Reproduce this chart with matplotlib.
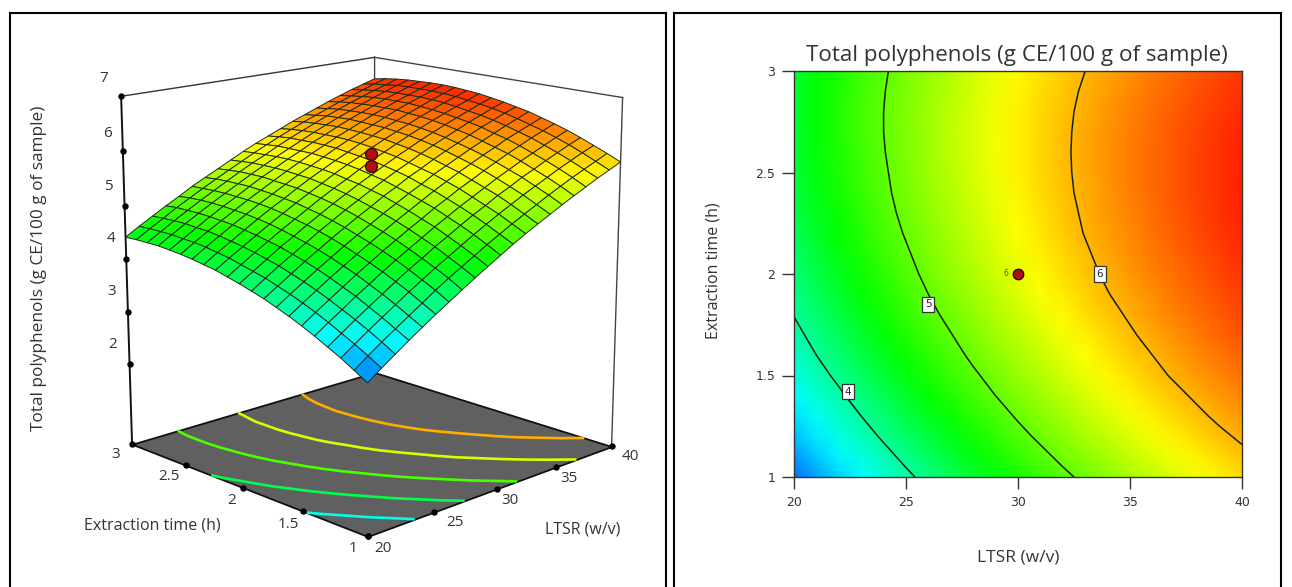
import matplotlib
matplotlib.use('Agg')
import matplotlib.pyplot as plt
import numpy as np
from matplotlib.colors import LinearSegmentedColormap, Normalize
from matplotlib.patches import Rectangle
from mpl_toolkits.mplot3d.art3d import Poly3DCollection

W, H = 1292, 587

# axes values
ltsr = [20, 21, 22, 23, 24, 25, 26, 27, 28, 29, 30, 31, 32, 33, 34, 35, 36, 37, 38, 39, 40]
ext_time = [1.0, 1.1, 1.2, 1.3, 1.4, 1.5, 1.6, 1.7, 1.8, 1.9, 2.0, 2.1, 2.2, 2.3, 2.4, 2.5, 2.6, 2.7, 2.8, 2.9, 3.0]

# total polyphenols, one row per extraction time, one column per LTSR
polyphenols = [
    [3.10, 3.28, 3.45, 3.62, 3.78, 3.94, 4.09, 4.24, 4.39, 4.53, 4.67, 4.81, 4.94, 5.06, 5.18, 5.30, 5.41, 5.52, 5.63, 5.73, 5.83],
    [3.24, 3.42, 3.59, 3.75, 3.91, 4.07, 4.23, 4.38, 4.52, 4.66, 4.80, 4.93, 5.06, 5.18, 5.30, 5.42, 5.53, 5.64, 5.74, 5.84, 5.94],
    [3.38, 3.55, 3.72, 3.88, 4.04, 4.20, 4.35, 4.50, 4.64, 4.78, 4.92, 5.05, 5.18, 5.30, 5.42, 5.53, 5.64, 5.75, 5.85, 5.95, 6.04],
    [3.50, 3.67, 3.84, 4.00, 4.16, 4.32, 4.47, 4.61, 4.76, 4.89, 5.03, 5.16, 5.28, 5.41, 5.52, 5.64, 5.74, 5.85, 5.95, 6.05, 6.14],
    [3.62, 3.79, 3.95, 4.12, 4.27, 4.43, 4.58, 4.72, 4.86, 5.00, 5.13, 5.26, 5.38, 5.50, 5.62, 5.73, 5.84, 5.94, 6.04, 6.14, 6.23],
    [3.73, 3.90, 4.06, 4.22, 4.38, 4.53, 4.68, 4.82, 4.96, 5.09, 5.23, 5.35, 5.48, 5.59, 5.71, 5.82, 5.93, 6.03, 6.13, 6.22, 6.31],
    [3.83, 4.00, 4.16, 4.32, 4.47, 4.62, 4.77, 4.91, 5.05, 5.18, 5.31, 5.44, 5.56, 5.68, 5.79, 5.90, 6.00, 6.11, 6.20, 6.29, 6.38],
    [3.92, 4.09, 4.25, 4.41, 4.56, 4.71, 4.85, 4.99, 5.13, 5.26, 5.39, 5.51, 5.64, 5.75, 5.86, 5.97, 6.07, 6.17, 6.27, 6.36, 6.45],
    [4.01, 4.17, 4.33, 4.49, 4.64, 4.79, 4.93, 5.07, 5.20, 5.34, 5.46, 5.59, 5.70, 5.82, 5.93, 6.03, 6.14, 6.24, 6.33, 6.42, 6.50],
    [4.08, 4.25, 4.41, 4.56, 4.71, 4.86, 5.00, 5.14, 5.27, 5.40, 5.53, 5.65, 5.76, 5.88, 5.99, 6.09, 6.19, 6.29, 6.38, 6.47, 6.55],
    [4.15, 4.31, 4.47, 4.63, 4.77, 4.92, 5.06, 5.20, 5.33, 5.46, 5.58, 5.70, 5.82, 5.93, 6.04, 6.14, 6.24, 6.33, 6.42, 6.51, 6.59],
    [4.21, 4.37, 4.53, 4.68, 4.83, 4.97, 5.11, 5.25, 5.38, 5.50, 5.63, 5.75, 5.86, 5.97, 6.08, 6.18, 6.28, 6.37, 6.46, 6.54, 6.63],
    [4.27, 4.43, 4.58, 4.73, 4.88, 5.02, 5.16, 5.29, 5.42, 5.55, 5.67, 5.78, 5.90, 6.01, 6.11, 6.21, 6.31, 6.40, 6.49, 6.57, 6.65],
    [4.31, 4.47, 4.62, 4.77, 4.92, 5.06, 5.19, 5.33, 5.46, 5.58, 5.70, 5.81, 5.93, 6.03, 6.14, 6.23, 6.33, 6.42, 6.51, 6.59, 6.67],
    [4.35, 4.51, 4.66, 4.81, 4.95, 5.09, 5.22, 5.35, 5.48, 5.60, 5.72, 5.84, 5.95, 6.05, 6.15, 6.25, 6.35, 6.44, 6.52, 6.60, 6.68],
    [4.38, 4.54, 4.69, 4.83, 4.97, 5.11, 5.24, 5.37, 5.50, 5.62, 5.74, 5.85, 5.96, 6.06, 6.16, 6.26, 6.35, 6.44, 6.52, 6.60, 6.68],
    [4.40, 4.55, 4.70, 4.85, 4.99, 5.12, 5.26, 5.39, 5.51, 5.63, 5.74, 5.86, 5.96, 6.07, 6.17, 6.26, 6.35, 6.44, 6.52, 6.60, 6.67],
    [4.42, 4.57, 4.72, 4.86, 5.00, 5.13, 5.26, 5.39, 5.51, 5.63, 5.74, 5.85, 5.96, 6.06, 6.16, 6.25, 6.34, 6.43, 6.51, 6.59, 6.66],
    [4.42, 4.57, 4.72, 4.86, 5.00, 5.13, 5.26, 5.39, 5.51, 5.62, 5.74, 5.85, 5.95, 6.05, 6.15, 6.24, 6.33, 6.41, 6.49, 6.56, 6.64],
    [4.42, 4.57, 4.71, 4.86, 4.99, 5.12, 5.25, 5.37, 5.49, 5.61, 5.72, 5.83, 5.93, 6.03, 6.12, 6.21, 6.30, 6.38, 6.46, 6.54, 6.61],
    [4.41, 4.56, 4.70, 4.84, 4.97, 5.11, 5.23, 5.35, 5.47, 5.59, 5.70, 5.80, 5.90, 6.00, 6.09, 6.18, 6.27, 6.35, 6.43, 6.50, 6.57],
]

# design points at the centre of the design
center_ltsr = 30
center_time = 2
center_high = 5.97
center_low = 5.74

contour_levels = [4, 5, 6]
contour_label_x = [22.4, 26.0, 33.65]
contour_label_t = [1.42, 1.85, 2.0]
floor_levels = [3.7, 4.3, 4.9, 5.5, 6.05]

x_ticks = [20, 25, 30, 35, 40]
t_ticks = [1, 1.5, 2, 2.5, 3]
t_ticklabels = ['1', '1.5', '2', '2.5', '3']
z_ticks = [2, 3, 4, 5, 6, 7]
z_floor = 0.43

title = 'Total polyphenols (g CE/100 g of sample)'
xlabel = 'LTSR (w/v)'
ylabel = 'Extraction time (h)'

# colour stops, value -> colour
color_values = [3.1, 3.62, 4.58, 5.68, 6.68]
color_list = ['#0070ff', '#00ffff', '#00ff00', '#ffff00', '#ff2000']


def fx(px):
    return px / W


def fy(py):
    return 1 - py / H


def ptext(fig, px, py, s, **kw):
    # text placed by pixel position of the reference
    kw.setdefault('ha', 'center')
    kw.setdefault('va', 'center')
    kw.setdefault('color', '#333333')
    kw.setdefault('family', 'Open Sans')
    return fig.text(fx(px), fy(py), s, **kw)


X, T = np.meshgrid(ltsr, ext_time)
Z = np.array(polyphenols)

norm = Normalize(color_values[0], color_values[-1])
stops = [(norm(v), c) for v, c in zip(color_values, color_list)]
cmap = LinearSegmentedColormap.from_list('design', stops, N=512)

fig = plt.figure(figsize=(W / 100, H / 100), dpi=100)

# panel frames, they run off the bottom of the image
for left, right in [(10, 666), (674, 1281)]:
    fig.add_artist(Rectangle((fx(left), fy(H + 10)), fx(right - left), fy(13) - fy(H + 10),
                             transform=fig.transFigure, fill=False, edgecolor='black', linewidth=1.5))

# 3D panel, square axes centred on the box
cx, cy, size = 362, 284.5, 700
ax3d = fig.add_axes([fx(cx - size / 2), fy(cy + size / 2), size / W, size / H], projection='3d', computed_zorder=False)
ax3d.set_proj_type('persp', focal_length=0.55)
ax3d.view_init(elev=15, azim=-134.2)
ax3d.set_box_aspect((1, 1, 1.04), zoom=0.844)
ax3d.set_xlim(20, 40)
ax3d.set_ylim(1, 3)
ax3d.set_zlim(z_floor, 7)
ax3d.set_axis_off()

floor = Poly3DCollection([[(20, 1, z_floor), (40, 1, z_floor), (40, 3, z_floor), (20, 3, z_floor)]],
                         facecolor='#606060', edgecolor='#111111', linewidth=1.3, zorder=1)
ax3d.add_collection3d(floor)
ax3d.contour(X, T, Z, levels=floor_levels, zdir='z', offset=z_floor, cmap=cmap, norm=norm,
             linewidths=1.9, zorder=2)

# box lines
ax3d.plot([20, 20], [3, 3], [z_floor, 7], color='#111111', lw=1.4, zorder=2)
ax3d.plot([40, 40], [3, 3], [z_floor, 7], color='#444444', lw=1.0, zorder=2)
ax3d.plot([40, 40], [1, 1], [z_floor, 7], color='#444444', lw=1.0, zorder=2)
ax3d.plot([20, 40], [3, 3], [7, 7], color='#333333', lw=1.0, zorder=2)
ax3d.plot([40, 40], [3, 1], [7, 7], color='#444444', lw=1.0, zorder=2)

# tick dots
ax3d.plot(x_ticks, [1] * 5, [z_floor] * 5, 'o', color='black', ms=3.6, zorder=2)
ax3d.plot([20] * 5, t_ticks, [z_floor] * 5, 'o', color='black', ms=3.6, zorder=2)
ax3d.plot([20] * 6, [3] * 6, z_ticks, 'o', color='black', ms=3.6, zorder=2)

ax3d.plot_surface(X, T, Z, cmap=cmap, norm=norm, rstride=1, cstride=1, edgecolor='#1c2c14',
                  linewidth=0.7, antialiased=True, shade=False, zorder=3)

ax3d.plot([center_ltsr], [center_time], [center_high], 'o', mfc='#b01010', mec='#3a0a0a', ms=8.5, zorder=5)
ax3d.plot([center_ltsr], [center_time], [center_low], 'o', mfc='#b01010', mec='#3a0a0a', ms=8.5, zorder=5)

# 3D panel text
z_label_pos = [(113, 345), (112, 292), (111, 239), (108, 187), (107, 133), (104, 78)]
for (px, py), v in zip(z_label_pos, z_ticks):
    ptext(fig, px, py, str(v), fontsize=11)
t_label_pos = [(353, 548), (288, 524), (232, 500), (169, 477), (116, 454)]
for (px, py), s in zip(t_label_pos, t_ticklabels):
    ptext(fig, px, py, s, fontsize=11)
x_label_pos = [(383, 548), (455, 522), (510, 500), (569, 479), (630, 457)]
for (px, py), v in zip(x_label_pos, x_ticks):
    ptext(fig, px, py, str(v), fontsize=11)
ptext(fig, 39, 268, title, fontsize=12.4, rotation=90)
ptext(fig, 152, 526, ylabel, fontsize=11.5)
ptext(fig, 583, 529, xlabel, fontsize=11.5)

# contour panel
ax = fig.add_axes([fx(794), fy(477), fx(1242 - 794), fy(71) - fy(477)])
ax.pcolormesh(X, T, Z, cmap=cmap, norm=norm, shading='gouraud', rasterized=True)
ax.contour(X, T, Z, levels=contour_levels, colors='#14200f', linewidths=1.1)
for lx, lt, lev in zip(contour_label_x, contour_label_t, contour_levels):
    ax.text(lx, lt, str(lev), ha='center', va='center', fontsize=7.5, color='#222222',
            bbox=dict(boxstyle='square,pad=0.25', facecolor='white', edgecolor='#333333', linewidth=0.9), zorder=5)
ax.plot([center_ltsr], [center_time], 'o', mfc='#b01010', mec='#2a0808', ms=7.5, mew=1.0, zorder=6)
ax.text(center_ltsr - 0.55, center_time, '6', ha='center', va='center', fontsize=5.5, color='#555522', zorder=6)

ax.set_xlim(20, 40)
ax.set_ylim(1, 3)
ax.set_xticks(x_ticks)
ax.set_yticks(t_ticks)
ax.set_yticklabels(t_ticklabels)
ax.tick_params(axis='both', length=8.5, width=1.0, color='#333333', labelsize=9, labelcolor='#333333', pad=5)
for spine in ax.spines.values():
    spine.set_color('#333333')
    spine.set_linewidth(1.0)

ptext(fig, 1017, 55, title, fontsize=16.1)
ptext(fig, 713, 271, ylabel, fontsize=11.5, rotation=90)
ptext(fig, 1018, 558, xlabel, fontsize=12.5)

fig.savefig('out.png', dpi=100)
